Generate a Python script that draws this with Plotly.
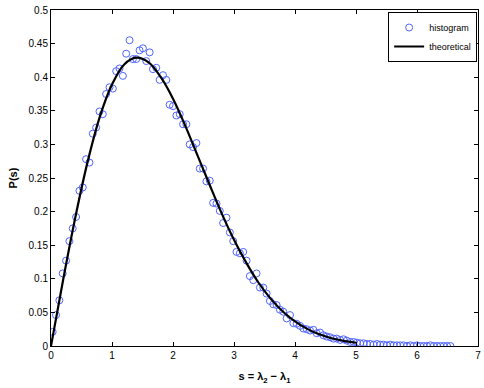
import plotly.graph_objects as go

# histogram bin centres and normalised counts
hist_s = [0.027, 0.082, 0.137, 0.192, 0.247, 0.301, 0.356, 0.411, 0.466, 0.521,
          0.575, 0.630, 0.685, 0.740, 0.795, 0.849, 0.904, 0.959, 1.014, 1.069,
          1.123, 1.178, 1.233, 1.288, 1.343, 1.397, 1.452, 1.507, 1.562, 1.617,
          1.671, 1.726, 1.781, 1.836, 1.891, 1.945, 2.000, 2.055, 2.110, 2.165,
          2.219, 2.274, 2.329, 2.384, 2.439, 2.493, 2.548, 2.603, 2.658, 2.713,
          2.767, 2.822, 2.877, 2.932, 2.987, 3.041, 3.096, 3.151, 3.206, 3.260,
          3.315, 3.370, 3.425, 3.480, 3.534, 3.589, 3.644, 3.699, 3.753, 3.808,
          3.863, 3.918, 3.973, 4.027, 4.082, 4.137, 4.192, 4.247, 4.301, 4.356,
          4.411, 4.466, 4.521, 4.575, 4.630, 4.685, 4.740, 4.795, 4.849, 4.904,
          4.959, 5.014, 5.068, 5.123, 5.178, 5.233, 5.288, 5.343, 5.397, 5.452,
          5.507, 5.562, 5.617, 5.671, 5.726, 5.781, 5.836, 5.891, 5.945, 6.000,
          6.055, 6.110, 6.164, 6.219, 6.274, 6.329, 6.384, 6.438, 6.493, 6.548]
hist_p = [0.021, 0.046, 0.068, 0.108, 0.127, 0.156, 0.175, 0.192, 0.231, 0.236,
          0.278, 0.273, 0.316, 0.325, 0.349, 0.345, 0.375, 0.385, 0.383, 0.409,
          0.413, 0.402, 0.435, 0.455, 0.427, 0.427, 0.440, 0.443, 0.424, 0.437,
          0.412, 0.414, 0.396, 0.403, 0.396, 0.359, 0.357, 0.343, 0.345, 0.330,
          0.330, 0.300, 0.296, 0.302, 0.264, 0.264, 0.245, 0.246, 0.213, 0.212,
          0.201, 0.183, 0.191, 0.169, 0.156, 0.140, 0.138, 0.140, 0.127, 0.104,
          0.098, 0.108, 0.087, 0.087, 0.078, 0.067, 0.062, 0.061, 0.054, 0.051,
          0.041, 0.046, 0.034, 0.033, 0.030, 0.026, 0.025, 0.023, 0.024, 0.019,
          0.020, 0.016, 0.014, 0.013, 0.011, 0.011, 0.009, 0.010, 0.008, 0.006,
          0.006, 0.005, 0.004, 0.004, 0.003, 0.003, 0.002, 0.003, 0.002, 0.002,
          0.001, 0.002, 0.001, 0.001, 0.001, 0.001, 0.000, 0.001, 0.000, 0.001,
          0.000, 0.000, 0.000, 0.001, 0.000, 0.000, 0.000, 0.000, 0.000, 0.000]

# theoretical curve
theo_s = [0.0, 0.2, 0.4, 0.6, 0.8, 1.0, 1.2, 1.4, 1.6, 1.8, 2.0, 2.2, 2.4,
          2.6, 2.8, 3.0, 3.2, 3.4, 3.6, 3.8, 4.0, 4.2, 4.4, 4.6, 4.8, 5.0]
theo_p = [0.0, 0.099, 0.192, 0.274, 0.341, 0.389, 0.419, 0.429, 0.422, 0.400,
          0.368, 0.328, 0.284, 0.240, 0.197, 0.158, 0.124, 0.0945, 0.0705,
          0.0514, 0.0366, 0.0255, 0.0174, 0.0116, 0.0076, 0.0048]

ytick_vals = [0, 0.05, 0.1, 0.15, 0.2, 0.25, 0.3, 0.35, 0.4, 0.45, 0.5]
ytick_text = ['0', '0.05', '0.1', '0.15', '0.2', '0.25', '0.3', '0.35', '0.4', '0.45', '0.5']

fig = go.Figure()
fig.add_trace(go.Scatter(x=hist_s, y=hist_p, mode='markers', name='histogram',
                         marker=dict(symbol='circle-open', size=7,
                                     color='rgb(80,100,255)', line=dict(width=1))))
fig.add_trace(go.Scatter(x=theo_s, y=theo_p, mode='lines', name='theoretical',
                         line=dict(color='black', width=2.2, shape='spline')))

axis_common = dict(showline=True, linecolor='black', linewidth=1, mirror='allticks',
                   ticks='inside', ticklen=4, tickcolor='black', showgrid=False,
                   zeroline=False, tickfont=dict(size=10, color='black'),
                   automargin=False)

fig.update_xaxes(range=[0, 7], tickvals=[0, 1, 2, 3, 4, 5, 6, 7],
                 title=dict(text='<b>s = λ<sub>2</sub> − λ<sub>1</sub></b>',
                            font=dict(size=11, color='black'), standoff=12),
                 **axis_common)
fig.update_yaxes(range=[0, 0.5], tickvals=ytick_vals, ticktext=ytick_text,
                 title=dict(text='<b>P(s)</b>', font=dict(size=11, color='black'),
                            standoff=8),
                 **axis_common)

fig.update_layout(
    width=484, height=388,
    margin=dict(l=51, r=6, t=10, b=42),
    paper_bgcolor='white', plot_bgcolor='white',
    font=dict(family='Liberation Sans, Arial, sans-serif', color='black'),
    showlegend=True,
    legend=dict(x=0.998, y=0.994, xanchor='right', yanchor='top',
                bgcolor='white', bordercolor='black', borderwidth=1,
                font=dict(size=9), tracegroupgap=0, itemwidth=30),
)

fig.write_html("out.html", config={'displayModeBar': False},
               post_script="document.body.style.margin='0';")
